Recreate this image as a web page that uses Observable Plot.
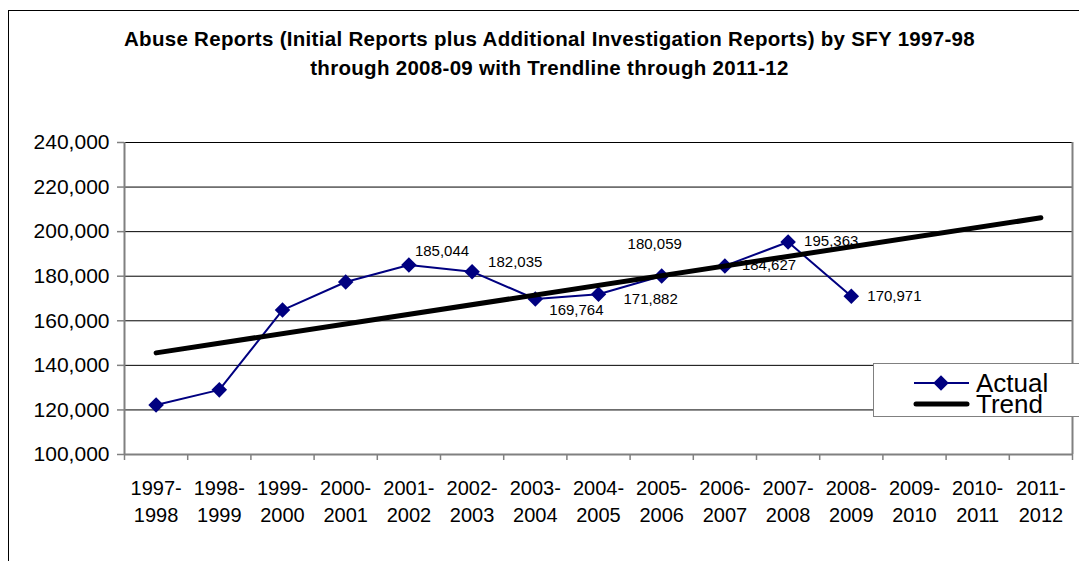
<!DOCTYPE html>
<html>
<head>
<meta charset="utf-8">
<script src="https://cdn.jsdelivr.net/npm/d3@7"></script>
<script src="https://cdn.jsdelivr.net/npm/@observablehq/plot@0.6"></script>
<style>
  html, body { margin: 0; padding: 0; background: #fff; }
  body { width: 1079px; height: 561px; overflow: hidden; font-family: "Liberation Sans", Arial, sans-serif; }
  #wrap { position: relative; width: 1079px; height: 561px; }
  #frame { position: absolute; left: 8px; top: 10px; width: 1200px; height: 700px; border: 1px solid #000; box-sizing: border-box; pointer-events: none; z-index: 5; }
  #title { height: 100px; box-sizing: border-box; padding-top: 25px; padding-left: 20px; text-align: center; font-weight: bold; font-size: 20.5px; letter-spacing: 0.3px; line-height: 28.5px; color: #000; }
  #legend { position: absolute; left: 873px; top: 363px; width: 230px; height: 54px; border: 1px solid #808080; background: #fff; box-sizing: border-box; z-index: 4; }
  #legend svg { position: absolute; left: 0; top: 0; }
</style>
</head>
<body>
<div id="wrap">
  <div id="frame"></div>
  <div id="title">Abuse Reports (Initial Reports plus Additional Investigation Reports) by SFY 1997-98<br>through 2008-09 with Trendline through 2011-12</div>
  <div id="chart"></div>
  <div id="legend"></div>
</div>
<script>
// Categories (state fiscal years)
const categories = ["1997-1998","1998-1999","1999-2000","2000-2001","2001-2002","2002-2003","2003-2004","2004-2005","2005-2006","2006-2007","2007-2008","2008-2009","2009-2010","2010-2011","2011-2012"];
// Actual abuse reports (first 12 years)
const actualValues = [122200, 129000, 164800, 177400, 185044, 182035, 169764, 171882, 180059, 184627, 195363, 170971];
// Trendline endpoints
const trendCategories = ["1997-1998", "2011-2012"];
const trendValues = [145600, 206200];
// Y axis ticks
const yTicks = [100000, 120000, 140000, 160000, 180000, 200000, 220000, 240000];
// Which points carry data labels
const labeledCategories = ["2001-2002","2002-2003","2003-2004","2004-2005","2005-2006","2006-2007","2007-2008","2008-2009"];

const idx = c => categories.indexOf(c);
const actual = actualValues.map((v, i) => ({i, cat: categories[i], value: v}));
const trend = trendCategories.map((c, k) => ({i: idx(c), value: trendValues[k]}));
const labeled = actual.filter(d => labeledCategories.includes(d.cat));
const fmt = d3.format(",");

// per-label placement (style)
const labelStyle = {
  "2001-2002": {dx: 6, dy: -14, textAnchor: "start"},
  "2002-2003": {dx: 16, dy: -9, textAnchor: "start"},
  "2003-2004": {dx: 14, dy: 11, textAnchor: "start"},
  "2004-2005": {dx: 25, dy: 5, textAnchor: "start"},
  "2005-2006": {dx: -7, dy: -32, textAnchor: "middle"},
  "2006-2007": {dx: 17, dy: -1, textAnchor: "start"},
  "2007-2008": {dx: 16, dy: -1, textAnchor: "start"},
  "2008-2009": {dx: 16, dy: 0, textAnchor: "start"}
};
const labelMarks = labeled.map(d => Plot.text([d], {
  x: "i", y: "value", text: d => fmt(d.value),
  fontSize: 15, fill: "#000", ...labelStyle[d.cat]
}));

const boundaries = d3.range(categories.length + 1).map(k => k - 0.5);

const chart = Plot.plot({
  width: 1079,
  height: 461,
  marginLeft: 124,
  marginRight: 7,
  marginTop: 42,
  marginBottom: 107,
  style: {background: "transparent", fontFamily: "'Liberation Sans', Arial, sans-serif", color: "#000", overflow: "visible"},
  x: {type: "linear", domain: [-0.5, categories.length - 0.5]},
  y: {domain: [100000, 240000]},
  marks: [
    Plot.ruleY(yTicks.slice(1), {stroke: "#000", strokeWidth: 1}),
    Plot.ruleY([100000], {stroke: "#808080", strokeWidth: 2}),
    Plot.ruleX([-0.5], {stroke: "#808080", strokeWidth: 2}),
    Plot.ruleX([categories.length - 0.5], {stroke: "#808080", strokeWidth: 2}),
    Plot.axisY({ticks: yTicks, tickFormat: fmt, tickSize: 7, tickPadding: 8, fontSize: 21, stroke: "#808080", strokeWidth: 1.5, label: null}),
    Plot.axisX({ticks: boundaries, tickFormat: () => "", tickSize: 6, stroke: "#808080", strokeWidth: 1.5, label: null}),
    Plot.axisX({ticks: d3.range(categories.length), tickSize: 0, tickPadding: 21, fontSize: 20, lineHeight: 1.35,
      tickFormat: i => categories[i].replace("-", "-\n"), label: null}),
    ...labelMarks,
    Plot.line(actual, {x: "i", y: "value", stroke: "#000080", strokeWidth: 2}),
    Plot.dot(actual, {x: "i", y: "value", symbol: "diamond2", r: 7, fill: "#000080", stroke: "none"}),
    Plot.line(trend, {x: "i", y: "value", stroke: "#000", strokeWidth: 5, strokeLinecap: "round"})
  ]
});
document.getElementById("chart").appendChild(chart);

// Legend
const leg = d3.select("#legend").append("svg").attr("width", 230).attr("height", 54);
leg.append("line").attr("x1", 40).attr("x2", 95).attr("y1", 19).attr("y2", 19).attr("stroke", "#000080").attr("stroke-width", 2);
leg.append("path").attr("d", d3.symbol(d3.symbolDiamond2, 7 * 7 * Math.PI)()).attr("transform", "translate(67,19)").attr("fill", "#000080");
leg.append("line").attr("x1", 42).attr("x2", 93).attr("y1", 40).attr("y2", 40).attr("stroke", "#000").attr("stroke-width", 5).attr("stroke-linecap", "round");
leg.append("text").attr("x", 102).attr("y", 19).attr("dy", "0.35em").attr("font-size", 26).attr("font-family", "'Liberation Sans', Arial, sans-serif").text("Actual");
leg.append("text").attr("x", 102).attr("y", 40).attr("dy", "0.35em").attr("font-size", 26).attr("font-family", "'Liberation Sans', Arial, sans-serif").text("Trend");
</script>
</body>
</html>
